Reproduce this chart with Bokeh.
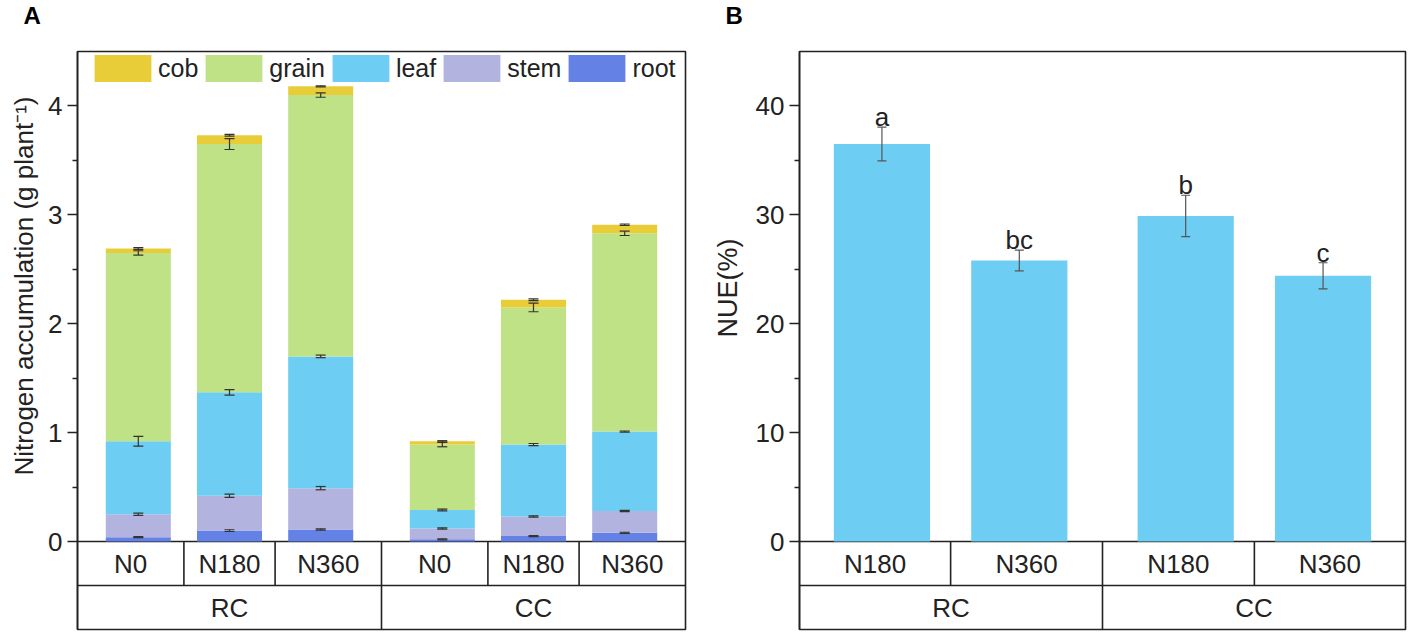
from bokeh.plotting import figure
from bokeh.models import (Range1d, FixedTicker, ColumnDataSource, Whisker, TeeHead,
                          Title, Legend, LegendItem)
from bokeh.layouts import row
from bokeh.embed import file_html
from bokeh.resources import INLINE
from bokeh.core.properties import value

FONT = "Liberation Sans"
INK = "#222222"

# ---------------- data: panel A ----------------
systems = ["RC", "CC"]
rates_a = ["N0", "N180", "N360"]
parts = ["root", "stem", "leaf", "grain", "cob"]
legend_order = ["cob", "grain", "leaf", "stem", "root"]
root = [0.04, 0.10, 0.11, 0.02, 0.05, 0.08]
stem = [0.21, 0.32, 0.38, 0.10, 0.18, 0.20]
leaf = [0.67, 0.95, 1.21, 0.17, 0.66, 0.73]
grain = [1.73, 2.28, 2.40, 0.60, 1.26, 1.82]
cob = [0.04, 0.08, 0.08, 0.03, 0.07, 0.08]
root_se = [0.005, 0.008, 0.006, 0.005, 0.005, 0.005]
stem_se = [0.010, 0.015, 0.015, 0.006, 0.006, 0.006]
leaf_se = [0.045, 0.025, 0.012, 0.008, 0.010, 0.005]
grain_se = [0.020, 0.050, 0.020, 0.020, 0.040, 0.020]
cob_se = [0.008, 0.008, 0.005, 0.006, 0.008, 0.006]
part_colors = ["#6482E6", "#B3B3DF", "#6ECDF2", "#BEE285", "#E9CD38"]
yticks_a = [0, 1, 2, 3, 4]
yminor_a = [0.5, 1.5, 2.5, 3.5]
ymax_a = 4.5

# ---------------- data: panel B ----------------
rates_b = ["N180", "N360"]
nue = [36.5, 25.8, 29.9, 24.4]
nue_se = [1.55, 0.95, 1.90, 1.20]
letters = ["a", "bc", "b", "c"]
yticks_b = [0, 10, 20, 30, 40]
yminor_b = [5, 15, 25, 35]
ymax_b = 45
bar_color_b = "#6ECDF2"

CHART_PX, TABLE_PX = 490, 88
TOP_BORDER, BOTTOM_BORDER = 51, 4


def layout_positions(n_groups, n_sub, gap, pad):
    centers = [g * (n_sub + gap) + j for g in range(n_groups) for j in range(n_sub)]
    start, end = -pad, centers[-1] + pad
    edges = [start] + [(centers[i] + centers[i + 1]) / 2 for i in range(len(centers) - 1)] + [end]
    gedges = [start] + [(centers[g * n_sub + n_sub - 1] + centers[(g + 1) * n_sub]) / 2
                        for g in range(n_groups - 1)] + [end]
    return centers, start, end, edges, gedges


def make_panel(width, bl, br, xr, ymax, ticks, minor, ylabel, ylabel_size, ylabel_off,
               ylabel_standoff, letter, letter_off, edges, gedges, sub_labels, group_labels):
    ytab = -ymax * TABLE_PX / CHART_PX
    p = figure(width=width, height=TOP_BORDER + CHART_PX + TABLE_PX + BOTTOM_BORDER,
               x_range=xr, y_range=Range1d(ytab, ymax),
               output_backend="svg", toolbar_location=None, x_axis_location=None,
               min_border_left=bl, min_border_right=br, min_border_top=TOP_BORDER,
               min_border_bottom=BOTTOM_BORDER)
    p.grid.grid_line_color = None
    p.outline_line_color = INK
    p.outline_line_width = 1.6
    p.outline_line_alpha = 1
    ax = p.yaxis[0]
    ax.ticker = FixedTicker(ticks=ticks, minor_ticks=minor)
    ax.major_label_text_font = FONT
    ax.major_label_text_font_size = "26px"
    ax.major_label_text_color = INK
    ax.major_label_standoff = 5
    ax.major_tick_out = 10
    ax.major_tick_in = 0
    ax.minor_tick_out = 5
    ax.minor_tick_in = 0
    ax.axis_line_width = 1.6
    ax.axis_line_color = INK
    ax.major_tick_line_width = 1.4
    ax.major_tick_line_color = INK
    ax.minor_tick_line_width = 1.4
    ax.minor_tick_line_color = INK

    # y label as a left title, anchored from the frame bottom so it sits on the chart part
    p.add_layout(Title(text=ylabel, align="left", offset=ylabel_off,
                       standoff=ylabel_standoff, text_font=FONT, text_font_size=ylabel_size,
                       text_font_style="normal", text_color=INK), "left")
    # spacer nearest the frame, then the panel letter at the very top
    p.add_layout(Title(text=" ", text_font_size="8px", standoff=10), "above")
    p.add_layout(Title(text=letter, align="left", offset=letter_off, standoff=0,
                       vertical_align="top", text_font=FONT, text_font_size="24px",
                       text_font_style="bold", text_color="#000000"), "above")

    # category table inside the lower frame
    x0, x1 = edges[0], edges[-1]
    mid = ytab / 2
    inner = edges[1:-1]
    ginner = gedges[1:-1]
    sub_only = [e for e in inner if all(abs(e - g) > 1e-9 for g in ginner)]
    p.segment(x0=[x0, x0], y0=[0, mid], x1=[x1, x1], y1=[0, mid], line_color=INK, line_width=1.6)
    p.segment(x0=sub_only, y0=[0] * len(sub_only), x1=sub_only, y1=[mid] * len(sub_only),
              line_color=INK, line_width=1.6)
    p.segment(x0=ginner, y0=[0] * len(ginner), x1=ginner, y1=[ytab] * len(ginner),
              line_color=INK, line_width=1.6)
    cx = [(edges[i] + edges[i + 1]) / 2 for i in range(len(edges) - 1)]
    gx = [(gedges[i] + gedges[i + 1]) / 2 for i in range(len(gedges) - 1)]
    p.text(x=cx, y=[mid / 2] * len(cx), text=sub_labels, text_font=value(FONT),
           text_font_size=value("26px"), text_color=INK, text_align="center", text_baseline="middle")
    p.text(x=gx, y=[mid * 1.5] * len(gx), text=group_labels, text_font=value(FONT),
           text_font_size=value("26px"), text_color=INK, text_align="center", text_baseline="middle")
    return p


# ================= Panel A =================
ca, sa, ea, edges_a, gedges_a = layout_positions(len(systems), len(rates_a), 1 / 3, 2 / 3)
pa = make_panel(700, 77, 15, Range1d(sa, ea), ymax_a, yticks_a, yminor_a,
                "Nitrogen accumulation (g plant\u207b\u00b9)", "26px", 154, 13, "A", -54,
                edges_a, gedges_a, rates_a * len(systems), systems)

vals = {"root": root, "stem": stem, "leaf": leaf, "grain": grain, "cob": cob}
ses = {"root": root_se, "stem": stem_se, "leaf": leaf_se, "grain": grain_se, "cob": cob_se}
srcA = ColumnDataSource(dict(x=ca, **vals))
rends = pa.vbar_stack(parts, x="x", width=0.713, fill_color=part_colors, line_color=None, source=srcA)
rmap = dict(zip(parts, rends))

cum = [0.0] * len(ca)
for part in parts:
    cum = [c + v for c, v in zip(cum, vals[part])]
    es = ses[part]
    wsrc = ColumnDataSource(dict(x=ca, u=[c + e for c, e in zip(cum, es)],
                                 l=[c - e for c, e in zip(cum, es)]))
    pa.add_layout(Whisker(base="x", upper="u", lower="l", source=wsrc, line_color="#333333",
                          line_width=1.2, level="annotation",
                          upper_head=TeeHead(size=10, line_color="#333333", line_width=1.2),
                          lower_head=TeeHead(size=10, line_color="#333333", line_width=1.2)))

frame_h = CHART_PX + TABLE_PX
legA = Legend(items=[LegendItem(label=k, renderers=[rmap[k]]) for k in legend_order],
              orientation="horizontal", location=(10, frame_h - 34),
              glyph_width=71, glyph_height=34, label_standoff=0, spacing=0, padding=0, margin=0,
              label_text_font=FONT, label_text_font_size="25px", label_text_color=INK,
              background_fill_alpha=0, border_line_alpha=0)
pa.add_layout(legA)

# ================= Panel B =================
cb, sb, eb, edges_b, gedges_b = layout_positions(len(systems), len(rates_b), 0.211, 0.6)
pb = make_panel(709, 99, 4, Range1d(sb, eb), ymax_b, yticks_b, yminor_b,
                "NUE(%)", "27px", 292, 20, "B", -74,
                edges_b, gedges_b, rates_b * len(systems), systems)
srcB = ColumnDataSource(dict(x=cb, top=nue, se=nue_se, lab=letters,
                             u=[v + e for v, e in zip(nue, nue_se)],
                             l=[v - e for v, e in zip(nue, nue_se)]))
pb.vbar(x="x", top="top", width=0.70, fill_color=bar_color_b, line_color=None, source=srcB)
pb.add_layout(Whisker(base="x", upper="u", lower="l", source=srcB, line_color="#555555",
                      line_width=1.2, level="annotation",
                      upper_head=TeeHead(size=9, line_color="#555555", line_width=1.2),
                      lower_head=TeeHead(size=9, line_color="#555555", line_width=1.2)))
pb.text(x="x", y="u", text="lab", source=srcB, text_font=value(FONT),
        text_font_size=value("26px"), text_color=INK, text_align="center",
        text_baseline="alphabetic", y_offset=-10)

page = row(pa, pb, spacing=0)
open("out.html", "w").write(file_html(page, INLINE))
